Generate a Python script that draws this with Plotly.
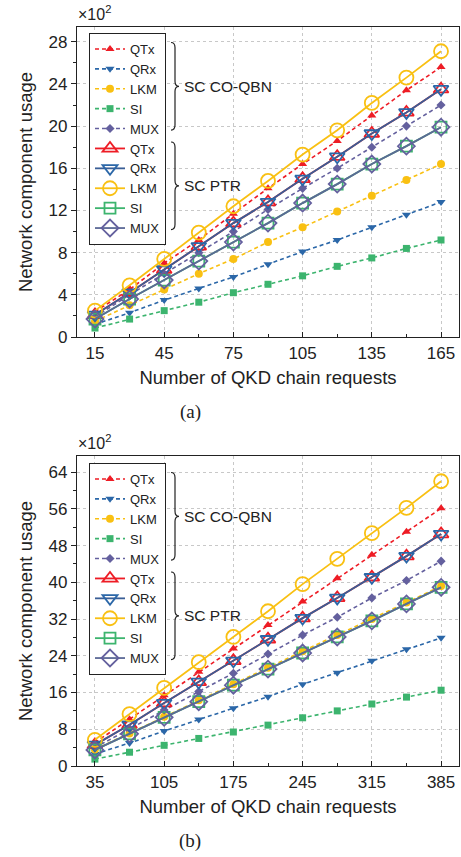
import plotly.graph_objects as go

W, H = 461, 857

# ---------------- data ----------------
series_names = ["QTx", "QRx", "LKM", "SI", "MUX"]

x_a = [15, 30, 45, 60, 75, 90, 105, 120, 135, 150, 165]
co_qtx_a = [2.4, 4.5, 7.0, 9.2, 11.7, 14.1, 16.4, 18.6, 21.0, 23.4, 25.6]
co_qrx_a = [1.2, 2.3, 3.5, 4.6, 5.7, 6.9, 8.1, 9.2, 10.4, 11.6, 12.8]
co_lkm_a = [1.5, 3.0, 4.5, 6.0, 7.4, 9.0, 10.4, 11.9, 13.4, 14.9, 16.4]
co_si_a = [0.85, 1.7, 2.5, 3.3, 4.2, 5.0, 5.8, 6.7, 7.5, 8.4, 9.2]
co_mux_a = [1.9, 4.0, 6.0, 8.0, 10.0, 12.1, 14.1, 16.0, 18.0, 20.0, 22.0]
ptr_qtx_a = [2.1, 4.2, 6.4, 8.6, 10.8, 12.8, 15.0, 17.1, 19.3, 21.3, 23.5]
ptr_qrx_a = [2.1, 4.2, 6.4, 8.6, 10.8, 12.8, 15.0, 17.1, 19.3, 21.3, 23.5]
ptr_lkm_a = [2.5, 4.9, 7.4, 9.9, 12.4, 14.8, 17.3, 19.6, 22.2, 24.6, 27.1]
ptr_si_a = [1.7, 3.6, 5.4, 7.2, 9.0, 10.8, 12.7, 14.5, 16.4, 18.1, 19.9]
ptr_mux_a = [1.7, 3.6, 5.4, 7.2, 9.0, 10.8, 12.7, 14.5, 16.4, 18.1, 19.9]

x_b = [35, 70, 105, 140, 175, 210, 245, 280, 315, 350, 385]
co_qtx_b = [5.1, 10.2, 15.4, 20.5, 25.6, 30.7, 35.8, 40.9, 46.0, 51.0, 56.1]
co_qrx_b = [2.6, 5.0, 7.6, 10.1, 12.6, 15.1, 17.8, 20.3, 22.9, 25.4, 27.9]
co_lkm_b = [3.6, 7.1, 10.7, 14.3, 17.8, 21.4, 25.0, 28.5, 32.0, 35.6, 39.2]
co_si_b = [1.5, 3.0, 4.5, 6.0, 7.4, 8.9, 10.5, 12.0, 13.5, 15.0, 16.5]
co_mux_b = [4.0, 8.1, 12.2, 16.2, 20.2, 24.4, 28.5, 32.4, 36.6, 40.4, 44.6]
ptr_qtx_b = [4.6, 9.0, 13.7, 18.3, 22.9, 27.6, 32.2, 36.6, 41.1, 45.7, 50.5]
ptr_qrx_b = [4.6, 9.0, 13.7, 18.3, 22.9, 27.6, 32.2, 36.6, 41.1, 45.7, 50.5]
ptr_lkm_b = [5.7, 11.3, 17.0, 22.6, 28.1, 33.7, 39.6, 45.1, 50.7, 56.2, 62.0]
ptr_si_b = [3.5, 7.0, 10.6, 14.0, 17.6, 21.1, 24.6, 28.1, 31.6, 35.3, 38.9]
ptr_mux_b = [3.5, 7.0, 10.6, 14.0, 17.6, 21.1, 24.6, 28.1, 31.6, 35.3, 38.9]

group_labels = ["SC CO-QBN", "SC PTR"]
panel_labels = ["(a)", "(b)"]
x_title = "Number of QKD chain requests"
y_title = "Network component usage"

# ---------------- styles ----------------
co_colors = ["#EE1C25", "#2B67A8", "#F9C012", "#3CB46E", "#64609E"]
ptr_line_colors = ["#EE1C25", "#3A5E96", "#F9C012", "#3CB46E", "#5C6996"]
ptr_marker_colors = ["#EE1C25", "#2B67A8", "#F9C012", "#3CB46E", "#64609E"]
co_symbols = ["triangle-up", "triangle-down", "circle", "square", "diamond"]
ptr_symbols = ["triangle-up-open", "triangle-down-open", "circle-open",
               "square-open", "diamond-open"]
co_sizes = [8, 8, 8, 7, 7]
ptr_sizes = [13, 13, 14, 11, 13]

FONT = "Liberation Sans, Arial, sans-serif"
LEG_FONT = 13


def px(x):
    return x / W


def py(y):
    return 1 - y / H


fig = go.Figure()

panels = [
    dict(x=x_a, co=[co_qtx_a, co_qrx_a, co_lkm_a, co_si_a, co_mux_a],
         ptr=[ptr_qtx_a, ptr_qrx_a, ptr_lkm_a, ptr_si_a, ptr_mux_a],
         xa="x", ya="y", legend="legend"),
    dict(x=x_b, co=[co_qtx_b, co_qrx_b, co_lkm_b, co_si_b, co_mux_b],
         ptr=[ptr_qtx_b, ptr_qrx_b, ptr_lkm_b, ptr_si_b, ptr_mux_b],
         xa="x2", ya="y2", legend="legend2"),
]

for p in panels:
    for i, name in enumerate(series_names):
        fig.add_trace(go.Scatter(
            x=p["x"], y=p["co"][i], name=name, mode="lines+markers",
            line=dict(color=co_colors[i], width=1.6, dash="4px,3px"),
            marker=dict(symbol=co_symbols[i], size=co_sizes[i], color=co_colors[i]),
            xaxis=p["xa"], yaxis=p["ya"], legend=p["legend"],
        ))
    for i, name in enumerate(series_names):
        fig.add_trace(go.Scatter(
            x=p["x"], y=p["ptr"][i], name=name, mode="lines+markers",
            line=dict(color=ptr_line_colors[i], width=1.8),
            marker=dict(symbol=ptr_symbols[i], size=ptr_sizes[i],
                        color=ptr_marker_colors[i],
                        line=dict(width=1.8, color=ptr_marker_colors[i])),
            xaxis=p["xa"], yaxis=p["ya"], legend=p["legend"],
        ))

common_axis = dict(
    showline=True, linecolor="#222", linewidth=1.2, mirror=True,
    showgrid=True, gridcolor="#C8C8C8", griddash="dot", gridwidth=1,
    zeroline=False, automargin=False,
    tickfont=dict(family=FONT, size=17, color="#222"),
    tickcolor="#222", ticklen=5,
)
TITLE_FONT = dict(size=18.5, family=FONT, color="#222")

# panel geometry in pixels
top_a, bot_a = 27, 337
top_b, bot_b = 456, 766
left, right = 77, 459
leg_tops = [33, 463]

legend_common = dict(xanchor="left", yanchor="top",
                     bgcolor="white", bordercolor="#222", borderwidth=1,
                     font=dict(size=LEG_FONT, family=FONT, color="#222"),
                     tracegroupgap=0, itemwidth=30)

fig.update_layout(
    width=W, height=H,
    margin=dict(l=0, r=0, t=0, b=0),
    paper_bgcolor="white", plot_bgcolor="white",
    font=dict(family=FONT, color="#222"),
    hovermode=False,
    xaxis=dict(domain=[px(left), px(right)], anchor="y", range=[7.2, 172.8],
               tick0=15, dtick=30, ticks="inside",
               minor=dict(dtick=15, tick0=15, ticks="inside", ticklen=3, showgrid=False),
               title=dict(text=x_title, font=TITLE_FONT, standoff=9),
               **common_axis),
    yaxis=dict(domain=[py(bot_a), py(top_a)], anchor="x", range=[0, 29.4],
               tick0=0, dtick=4, ticks="outside",
               minor=dict(dtick=2, ticks="outside", ticklen=3, showgrid=False),
               title=dict(text=y_title, font=TITLE_FONT, standoff=11),
               **common_axis),
    xaxis2=dict(domain=[px(left), px(right)], anchor="y2", range=[16.9, 403.1],
                tick0=35, dtick=70, ticks="inside",
                minor=dict(dtick=35, tick0=35, ticks="inside", ticklen=3, showgrid=False),
                title=dict(text=x_title, font=TITLE_FONT, standoff=9),
                **common_axis),
    yaxis2=dict(domain=[py(bot_b), py(top_b)], anchor="x2", range=[0, 67.5],
                tick0=0, dtick=8, ticks="outside",
                minor=dict(dtick=4, ticks="outside", ticklen=3, showgrid=False),
                title=dict(text=y_title, font=TITLE_FONT, standoff=11),
                **common_axis),
    legend=dict(x=px(89), y=py(leg_tops[0]), **legend_common),
    legend2=dict(x=px(89), y=py(leg_tops[1]), **legend_common),
)


def brace(x0, y1, y2, d=4, r=5):
    ym = (y1 + y2) / 2
    pts = [
        f"M {px(x0)},{py(y1)}",
        f"Q {px(x0 + d)},{py(y1)} {px(x0 + d)},{py(y1 + r)}",
        f"L {px(x0 + d)},{py(ym - r)}",
        f"Q {px(x0 + d)},{py(ym)} {px(x0 + 2 * d)},{py(ym)}",
        f"Q {px(x0 + d)},{py(ym)} {px(x0 + d)},{py(ym + r)}",
        f"L {px(x0 + d)},{py(y2 - r)}",
        f"Q {px(x0 + d)},{py(y2)} {px(x0)},{py(y2)}",
    ]
    return dict(type="path", path=" ".join(pts), xref="paper", yref="paper",
                line=dict(color="#222", width=1.2), layer="above")


ITEM = max(LEG_FONT * 1.3, 16) + 3
shapes = []
annotations = []
for leg_top, ptop, pbot, lab in [(leg_tops[0], top_a, bot_a, panel_labels[0]),
                                  (leg_tops[1], top_b, bot_b, panel_labels[1])]:
    c0 = leg_top + 13.5
    for g in range(2):
        y1 = c0 + g * 5 * ITEM - 4
        y2 = c0 + (g * 5 + 4) * ITEM + 4
        shapes.append(brace(171, y1, y2))
        annotations.append(dict(
            x=px(182), y=py((y1 + y2) / 2), xref="paper", yref="paper",
            text=group_labels[g], showarrow=False, xanchor="left", yanchor="middle",
            font=dict(size=15.5, family=FONT, color="#222")))
    annotations.append(dict(
        x=px(76), y=py(ptop - 2), xref="paper", yref="paper",
        text="×10<sup>2</sup>", showarrow=False, xanchor="left", yanchor="bottom",
        font=dict(size=16, family=FONT, color="#222")))
    annotations.append(dict(
        x=px(190), y=py(pbot + 75), xref="paper", yref="paper",
        text=lab, showarrow=False, xanchor="center", yanchor="middle",
        font=dict(size=19, family="Liberation Serif, Times New Roman, serif", color="#222")))

fig.update_layout(shapes=shapes, annotations=annotations)

fig.write_html(
    "out.html",
    config={"displayModeBar": False},
    post_script="document.body.style.margin='0px';document.body.style.overflow='hidden';",
)
